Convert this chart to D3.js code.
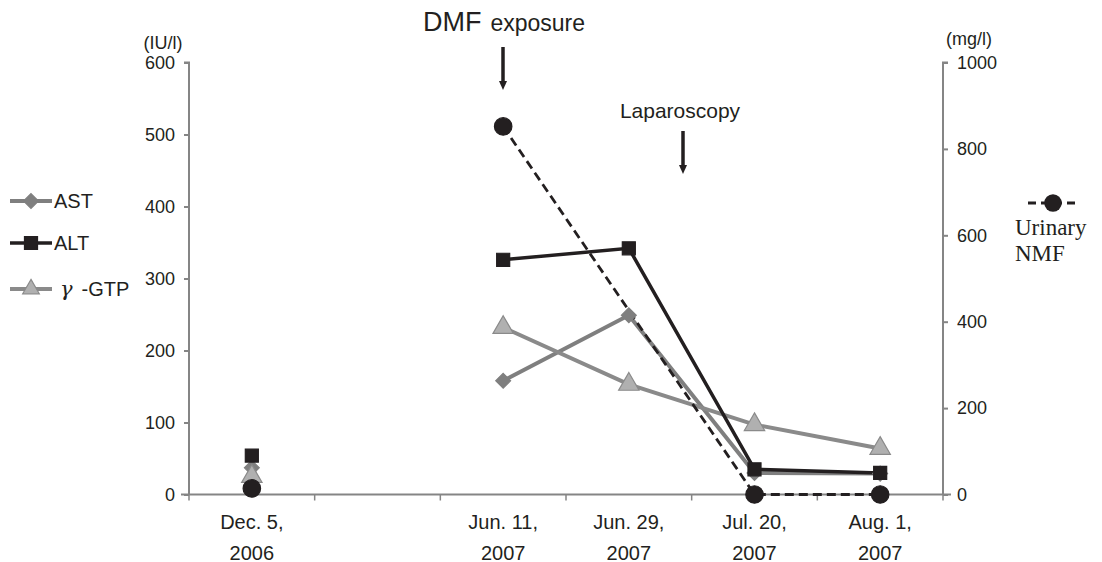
<!DOCTYPE html>
<html>
<head>
<meta charset="utf-8">
<script src="https://cdn.jsdelivr.net/npm/d3@7"></script>
<style>
  body { margin: 0; background: #fff; }
  svg { display: block; font-family: "Liberation Sans", Arial, sans-serif; }
</style>
</head>
<body>
<svg width="1102" height="562"></svg>
<script>
// categories (blank slot between the two years)
var categories = ["Dec. 5,|2006", "", "Jun. 11,|2007", "Jun. 29,|2007", "Jul. 20,|2007", "Aug. 1,|2007"];
var ast = [37, null, 158, 249, 30, 29];
var alt = [54, null, 326, 342, 35, 30];
var gtp = [25, null, 232, 153, 97, 64];
var nmf = [14, null, 852, null, 0, 0];   // mg/l, right axis
var leftTicks = [0, 100, 200, 300, 400, 500, 600];
var rightTicks = [0, 200, 400, 600, 800, 1000];

var svg = d3.select("svg");
var x0 = 189, x1 = 943, yTop = 62.5, yBot = 494.5;

var x = d3.scaleBand().domain(d3.range(categories.length)).range([x0, x1]);
var yL = d3.scaleLinear().domain([0, 600]).range([yBot, yTop]);
var yR = d3.scaleLinear().domain([0, 1000]).range([yBot, yTop]);
var cx = function(i) { return x(i) + x.bandwidth() / 2; };

var axisCol = "#858585";
var ink = "#231f20";

// left axis
var gL = svg.append("g").attr("transform", "translate(" + x0 + ",0)")
    .call(d3.axisLeft(yL).tickValues(leftTicks).tickFormat(d3.format("d")).tickSize(5).tickPadding(9));
// right axis
var gR = svg.append("g").attr("transform", "translate(" + x1 + ",0)")
    .call(d3.axisRight(yR).tickValues(rightTicks).tickFormat(d3.format("d")).tickSize(5).tickPadding(9));
// bottom axis, ticks on category boundaries
var gB = svg.append("g").attr("transform", "translate(0," + yBot + ")");
gB.append("line").attr("x1", x0 - 8).attr("x2", x1 + 8).attr("stroke", axisCol).attr("stroke-width", 2);
gB.selectAll(".bt").data(d3.range(categories.length + 1)).enter().append("line")
    .attr("x1", function(i) { return x0 + i * x.step(); })
    .attr("x2", function(i) { return x0 + i * x.step(); })
    .attr("y1", 0).attr("y2", 6)
    .attr("stroke", axisCol).attr("stroke-width", 1.5);
gB.selectAll(".cl").data(categories).enter().append("text")
    .attr("text-anchor", "middle")
    .attr("font-size", 20).attr("fill", ink)
    .each(function(d, i) {
      var parts = d.split("|");
      var t = d3.select(this);
      parts.forEach(function(p, k) {
        t.append("tspan").attr("x", cx(i)).attr("y", 34 + k * 31).text(p);
      });
    });

[gL, gR].forEach(function(g) {
  g.selectAll("path, line").attr("stroke", axisCol).attr("stroke-width", 2);
  g.selectAll("text").attr("font-size", 18).attr("fill", ink).attr("font-family", "Liberation Sans, Arial, sans-serif");
});
gL.select("path").attr("d", "M-5," + yTop + "H0V" + yBot);
gR.select("path").attr("d", "M5," + yTop + "H0V" + yBot);

// axis unit labels
svg.append("text").attr("x", 163).attr("y", 49).attr("text-anchor", "middle")
    .attr("font-size", 18).attr("fill", ink).text("(IU/l)");
svg.append("text").attr("x", 969).attr("y", 45).attr("text-anchor", "middle")
    .attr("font-size", 18).attr("fill", ink).text("(mg/l)");

// split values into runs separated by the blank category, drop missing points
function runs(vals) {
  var out = [], cur = [];
  vals.forEach(function(v, i) {
    if (categories[i] === "") { if (cur.length) out.push(cur); cur = []; return; }
    if (v !== null) cur.push({ i: i, v: v });
  });
  if (cur.length) out.push(cur);
  return out;
}

var series = [
  { name: "AST", vals: ast, y: yL, stroke: "#7f7f7f", width: 4, dash: null, marker: "diamond", fill: "#7f7f7f", mstroke: "#7f7f7f" },
  { name: "γ-GTP", vals: gtp, y: yL, stroke: "#8a8a8a", width: 4, dash: null, marker: "triangle", fill: "#b0b0b0", mstroke: "#8a8a8a" },
  { name: "ALT", vals: alt, y: yL, stroke: ink, width: 3.5, dash: null, marker: "square", fill: ink, mstroke: ink },
  { name: "NMF", vals: nmf, y: yR, stroke: ink, width: 2.8, dash: "9,5", marker: "circle", fill: ink, mstroke: ink }
];

// even diamond (d3's symbolDiamond is too narrow)
var evenDiamond = { draw: function(ctx, size) {
  var r = Math.sqrt(size / 2);
  ctx.moveTo(0, -r); ctx.lineTo(r, 0); ctx.lineTo(0, r); ctx.lineTo(-r, 0); ctx.closePath();
} };
var symbols = {
  diamond: d3.symbol().type(evenDiamond).size(110),
  triangle: d3.symbol().type(d3.symbolTriangle).size(180),
  square: d3.symbol().type(d3.symbolSquare).size(170),
  circle: d3.symbol().type(d3.symbolCircle).size(240)
};

series.forEach(function(s) {
  var line = d3.line().x(function(d) { return cx(d.i); }).y(function(d) { return s.y(d.v); });
  runs(s.vals).forEach(function(r) {
    if (r.length < 2) return;
    svg.append("path").attr("d", line(r)).attr("fill", "none")
      .attr("stroke", s.stroke).attr("stroke-width", s.width)
      .attr("stroke-dasharray", s.dash).attr("stroke-linejoin", "miter");
  });
});
series.forEach(function(s) {
  svg.selectAll(null).data(s.vals.map(function(v, i) { return { i: i, v: v }; }).filter(function(d) { return d.v !== null; }))
    .enter().append("path")
    .attr("d", symbols[s.marker])
    .attr("transform", function(d) { return "translate(" + cx(d.i) + "," + s.y(d.v) + ")"; })
    .attr("fill", s.fill).attr("stroke", s.mstroke).attr("stroke-width", 1.2);
});

// left legend
var leg = [
  { s: series[0], y: 201, label: "AST" },
  { s: series[2], y: 243, label: "ALT" },
  { s: series[1], y: 289, label: "γ" }
];
leg.forEach(function(l) {
  svg.append("line").attr("x1", 10).attr("x2", 52).attr("y1", l.y).attr("y2", l.y)
    .attr("stroke", l.s.stroke).attr("stroke-width", l.s.width);
  var sym = l.s.marker === "triangle" ? d3.symbol().type(d3.symbolTriangle).size(120) : symbols[l.s.marker];
  svg.append("path").attr("d", sym)
    .attr("transform", "translate(31," + l.y + ")")
    .attr("fill", l.s.fill).attr("stroke", l.s.mstroke).attr("stroke-width", 1.2);
  var t = svg.append("text").attr("x", l.label === "γ" ? 60 : 54).attr("y", l.y + 7)
    .attr("font-size", 20).attr("fill", ink);
  if (l.label === "γ") {
    t.append("tspan").attr("font-family", "DejaVu Serif, serif").attr("font-style", "italic").attr("font-size", 21).text("γ");
    t.append("tspan").attr("dx", 9).text("-GTP");
  } else {
    t.text(l.label);
  }
});

// right legend
svg.append("line").attr("x1", 1028).attr("x2", 1078).attr("y1", 203).attr("y2", 203)
  .attr("stroke", ink).attr("stroke-width", 2.8).attr("stroke-dasharray", "8,5");
svg.append("path").attr("d", symbols.circle).attr("transform", "translate(1053,203)").attr("fill", ink);
svg.append("text").attr("x", 1015).attr("y", 235).attr("font-family", "Liberation Serif, serif")
  .attr("font-size", 23).attr("fill", ink).text("Urinary");
svg.append("text").attr("x", 1015).attr("y", 261).attr("font-family", "Liberation Serif, serif")
  .attr("font-size", 23).attr("fill", ink).text("NMF");

// annotations
function arrow(xp, y1, y2) {
  svg.append("line").attr("x1", xp).attr("x2", xp).attr("y1", y1).attr("y2", y2 - 8)
    .attr("stroke", ink).attr("stroke-width", 3.5);
  svg.append("path").attr("d", "M" + (xp - 4) + "," + (y2 - 9) + "L" + (xp + 4) + "," + (y2 - 9) + "L" + xp + "," + y2 + "Z")
    .attr("fill", ink);
}
var dmf = svg.append("text").attr("x", 504).attr("y", 31).attr("text-anchor", "middle").attr("fill", ink);
dmf.append("tspan").attr("font-size", 27).text("DMF");
dmf.append("tspan").attr("font-size", 23).attr("dx", 9).text("exposure");
arrow(503, 47, 90);
svg.append("text").attr("x", 680).attr("y", 118).attr("text-anchor", "middle")
  .attr("font-size", 21).attr("fill", ink).text("Laparoscopy");
arrow(683, 131, 174);
</script>
</body>
</html>
